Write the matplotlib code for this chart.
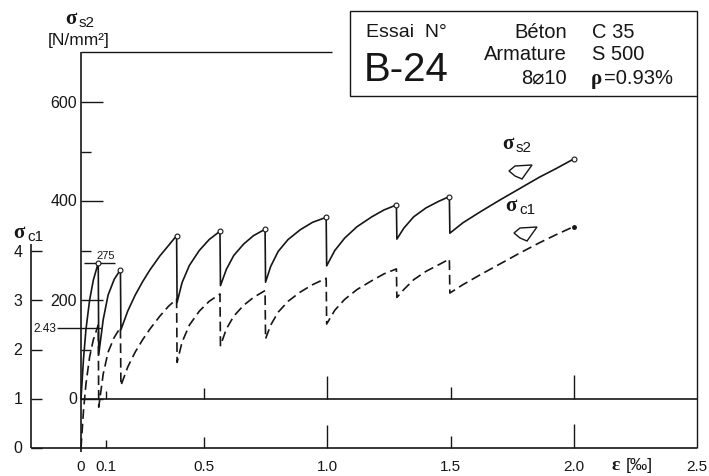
import matplotlib
matplotlib.use('Agg')
import matplotlib.pyplot as plt
from matplotlib.patches import Polygon, Rectangle
import numpy as np

plt.rcParams['font.family'] = ['Liberation Sans', 'DejaVu Sans']
plt.rcParams['lines.scale_dashes'] = False

# ---- values read off the test record B-24 ----
# strain eps [permille] and steel stress in the crack sigma_s2 [N/mm2]
eps_s2 = [0, 0.01, 0.02, 0.035, 0.05, 0.07,
          0.072, 0.09, 0.11, 0.135, 0.16,
          0.162, 0.19, 0.22, 0.25, 0.28, 0.32, 0.355, 0.388,
          0.39, 0.41, 0.44, 0.48, 0.52, 0.564,
          0.566, 0.59, 0.62, 0.66, 0.70, 0.747,
          0.749, 0.77, 0.80, 0.84, 0.89, 0.94, 0.995,
          0.997, 1.03, 1.07, 1.12, 1.18, 1.23, 1.28,
          1.282, 1.31, 1.35, 1.40, 1.45, 1.495,
          1.497, 1.55, 1.62, 1.70, 1.78, 1.86, 1.93, 2.0]
sig_s2 = [0, 80, 140, 200, 240, 275,
          90, 160, 210, 242, 261,
          140, 178, 210, 237, 261, 289, 310, 330,
          195, 235, 270, 300, 322, 339,
          229, 262, 290, 313, 330, 343,
          236, 268, 298, 322, 342, 357, 367,
          269, 300, 325, 348, 368, 382, 392,
          323, 345, 368, 386, 399, 409,
          335, 356, 378, 402, 425, 448, 466, 485]

# strain eps [permille] and mean concrete stress sigma_c1 [N/mm2]
eps_c1 = [0, 0.01, 0.02, 0.035, 0.05, 0.07,
          0.072, 0.09, 0.11, 0.135, 0.16,
          0.162, 0.19, 0.22, 0.25, 0.28, 0.32, 0.355, 0.388,
          0.39, 0.41, 0.44, 0.48, 0.52, 0.564,
          0.566, 0.59, 0.62, 0.66, 0.70, 0.747,
          0.749, 0.77, 0.80, 0.84, 0.89, 0.94, 0.995,
          0.997, 1.03, 1.07, 1.12, 1.18, 1.23, 1.28,
          1.282, 1.31, 1.35, 1.40, 1.45, 1.495,
          1.497, 1.55, 1.62, 1.70, 1.78, 1.86, 1.93, 2.0]
sig_c1 = [0, 0.75, 1.3, 1.85, 2.2, 2.5,
          0.83, 1.5, 1.95, 2.25, 2.45,
          1.27, 1.65, 1.95, 2.2, 2.42, 2.68, 2.88, 3.03,
          1.74, 2.15, 2.5, 2.78, 2.98, 3.13,
          2.08, 2.42, 2.68, 2.9, 3.06, 3.2,
          2.22, 2.5, 2.76, 2.98, 3.17, 3.32, 3.45,
          2.52, 2.8, 3.02, 3.22, 3.4, 3.54, 3.64,
          3.06, 3.22, 3.42, 3.59, 3.72, 3.84,
          3.15, 3.32, 3.52, 3.74, 3.96, 4.17, 4.34, 4.5]

x_ticks = [0.1, 0.5, 1.0, 1.5, 2.0]
x_label_pos = [0, 0.1, 0.5, 1.0, 1.5, 2.0, 2.5]
x_labels = ['0', '0.1', '0.5', '1.0', '1.5', '2.0', '2.5']
s2_ticks = [0, 200, 400, 600]
s2_minor = [100, 300, 500]
c1_ticks = [0, 1, 2, 3, 4]

# first crack values marked on the axes
first_s2 = 275
first_c1 = 2.43

# ---- sheet geometry in pixels (709x477) ----
W, H = 709, 477
X0, XS = 81, 246.4     # eps = 0 column, px per permille
Y0, YS = 400, 0.495    # sigma_s2 = 0 row, px per N/mm2
C0, CS = 449, 49.2     # sigma_c1 = 0 row, px per N/mm2
INK = '#161616'
SERIF = ['Liberation Serif', 'DejaVu Serif']
x_tick_len = [8, 11, 23, 12, 24]


def px2x(px):
  return (np.asarray(px, dtype=float) - X0) / XS


def py2y(py):
  return (Y0 - np.asarray(py, dtype=float)) / YS


def c1(v):
  # sigma_c1 value -> sigma_s2 plot units (second scale below the first)
  return py2y(C0 - CS * np.asarray(v, dtype=float))


def line(ax, xs, ys, lw=1.0):
  ax.plot(xs, ys, color=INK, lw=lw, solid_capstyle='butt')


def sigma_label(ax, px, py, sub):
  ax.text(px2x(px), py2y(py), 'σ', family=SERIF, weight='bold', fontsize=15,
          ha='left', va='center', color=INK)
  ax.text(px2x(px + 14), py2y(py + 4), sub, fontsize=11,
          ha='left', va='center', color=INK)


def hollow_arrow(ax, cx, cy):
  # left pointing block arrow, rear edge cut on the slant
  pts = np.array([[-12, 0], [-6, 5], [11, 6], [1, -8], [-6, -5]], dtype=float)
  xy = np.column_stack([px2x(cx + pts[:, 0]), py2y(cy - pts[:, 1])])
  ax.add_patch(Polygon(xy, closed=True, fill=False, ec=INK, lw=1.0))


fig = plt.figure(figsize=(W / 100, H / 100), dpi=100)
ax = fig.add_axes([0, 0, 1, 1])
ax.axis('off')
ax.set_xlim(px2x(0), px2x(W))
ax.set_ylim(py2y(H), py2y(0))

# frame and axes
line(ax, [0, px2x(332)], [py2y(53)] * 2)
line(ax, [px2x(697)] * 2, [py2y(97), c1(0)])
line(ax, [0, 0], [py2y(53), py2y(453)], lw=1.2)
line(ax, [0, px2x(697)], [0, 0], lw=1.2)
line(ax, [px2x(31)] * 2, [c1(4.15), c1(0)], lw=1.2)
line(ax, [px2x(31), px2x(697)], [c1(0)] * 2, lw=1.2)

# strain ticks on both base lines
for t, L in zip(x_ticks, x_tick_len):
  line(ax, [t, t], [0, L / YS])
  line(ax, [t, t], [c1(0), c1(0) + L / YS])
for t, lab in zip(x_label_pos, x_labels):
  ax.text(t, py2y(467), lab, fontsize=11, ha='center', va='center', color=INK)
ax.text(px2x(612), py2y(466), 'ε', family=SERIF, weight='bold', fontsize=14,
        ha='left', va='center', color=INK)
ax.text(px2x(626), py2y(466), '[‰]', fontsize=12.5, ha='left', va='center', color=INK)

# sigma_s2 scale
for t in s2_ticks:
  line(ax, [0, px2x(X0 + 22)], [t, t])
  ax.text(px2x(77), t, str(t), fontsize=11.5, ha='right', va='center', color=INK)
for t in s2_minor:
  line(ax, [0, px2x(X0 + 10)], [t, t])
sigma_label(ax, 65, 19, 's2')
ax.text(px2x(79), py2y(41), '[N/mm²]', fontsize=12.5, ha='center', va='center', color=INK)

# sigma_c1 scale
for t in c1_ticks:
  line(ax, [px2x(31), px2x(42)], [c1(t)] * 2)
  ax.text(px2x(18), c1(t), str(t), fontsize=11.5, ha='center', va='center', color=INK)
sigma_label(ax, 13, 233, 'c1')

# first crack marks
line(ax, [px2x(84), px2x(115)], [first_s2] * 2)
ax.text(px2x(106), py2y(256), str(first_s2), fontsize=8, ha='center', va='center', color=INK)
line(ax, [px2x(57), px2x(101)], [c1(first_c1)] * 2)
ax.text(px2x(56), c1(first_c1), str(first_c1), fontsize=8.5, ha='right', va='center', color=INK)

# curves
ax.plot(eps_s2, sig_s2, color=INK, lw=1.2)
ax.plot(eps_c1, c1(sig_c1), color=INK, lw=1.2, dashes=(7, 3.5))

# small circles at the crack points (where sigma_s2 drops) and at the end
peaks = [i for i in range(len(sig_s2) - 1) if sig_s2[i + 1] < sig_s2[i]] + [len(sig_s2) - 1]
ax.plot([eps_s2[i] for i in peaks], [sig_s2[i] for i in peaks], 'o', ms=3.5,
        mfc='white', mec=INK, mew=0.8)
ax.plot(eps_c1[-1], c1(sig_c1[-1]), 'o', ms=2.5, color=INK)

# curve names with hollow arrows
sigma_label(ax, 502, 144, 's2')
hollow_arrow(ax, 521, 172)
sigma_label(ax, 505, 206, 'c1')
hollow_arrow(ax, 526, 234)

# test box
ax.add_patch(Rectangle((px2x(350), py2y(97)), px2x(697) - px2x(350), py2y(12) - py2y(97),
                       fill=False, ec=INK, lw=1.0))
ax.text(px2x(366), py2y(33), 'Essai  N°', fontsize=14, ha='left', va='center', color=INK)
ax.text(px2x(364), py2y(70), 'B-24', fontsize=29, ha='left', va='center', color=INK)
ax.text(px2x(567), py2y(33), 'Béton', fontsize=14.5, ha='right', va='center', color=INK)
ax.text(px2x(567), py2y(55), 'Armature', fontsize=14.5, ha='right', va='center', color=INK)
ax.text(px2x(567), py2y(78), '8⌀10', fontsize=14.5, ha='right', va='center', color=INK)
ax.text(px2x(592), py2y(33), 'C 35', fontsize=14.5, ha='left', va='center', color=INK)
ax.text(px2x(592), py2y(55), 'S 500', fontsize=14.5, ha='left', va='center', color=INK)
ax.text(px2x(591), py2y(79), 'ρ', family=SERIF, weight='bold', fontsize=15,
        ha='left', va='center', color=INK)
ax.text(px2x(604), py2y(78), '=0.93%', fontsize=14.5, ha='left', va='center', color=INK)

fig.savefig('out.png', dpi=100)
